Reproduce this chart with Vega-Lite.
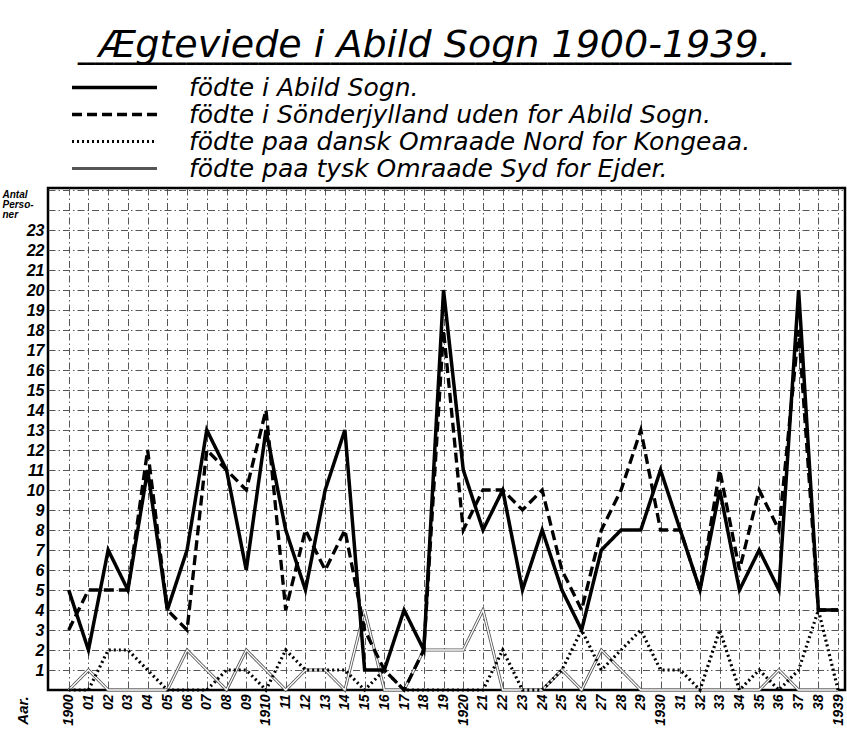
{
  "$schema": "https://vega.github.io/schema/vega-lite/v6.json",
  "autosize": {"type": "none"},
  "width": 797,
  "height": 502,
  "padding": {"left": 48, "top": 188, "right": 2, "bottom": 40},
  "background": "white",
  "title": {
    "text": "Ægteviede  i  Abild Sogn 1900-1939.",
    "subtitle": "━━━━━━━━━━━━━━━━━━━━━━━━━━━━━━━━━━━━━━━━━━━━━━━━━━━━━━━━━━━━━━━━━━━━━━━━━━━━━━━",
    "font": "DejaVu Sans",
    "fontSize": 38,
    "fontStyle": "italic",
    "fontWeight": "normal",
    "color": "black",
    "subtitleFont": "DejaVu Sans Mono",
    "subtitleFontSize": 15,
    "subtitleColor": "black",
    "subtitlePadding": -8,
    "anchor": "middle",
    "frame": "group",
    "offset": 4,
    "dx": -12,
    "dy": 1
  },
  "data": {
    "values": [
      {"year": 1900, "abild": 5, "sj": 3, "dansk": 0, "tysk": 0},
      {"year": 1901, "abild": 2, "sj": 5, "dansk": 0, "tysk": 1},
      {"year": 1902, "abild": 7, "sj": 5, "dansk": 2, "tysk": 0},
      {"year": 1903, "abild": 5, "sj": 5, "dansk": 2, "tysk": 0},
      {"year": 1904, "abild": 11, "sj": 12, "dansk": 1, "tysk": 0},
      {"year": 1905, "abild": 4, "sj": 4, "dansk": 0, "tysk": 0},
      {"year": 1906, "abild": 7, "sj": 3, "dansk": 0, "tysk": 2},
      {"year": 1907, "abild": 13, "sj": 12, "dansk": 0, "tysk": 1},
      {"year": 1908, "abild": 11, "sj": 11, "dansk": 1, "tysk": 0},
      {"year": 1909, "abild": 6, "sj": 10, "dansk": 1, "tysk": 2},
      {"year": 1910, "abild": 13, "sj": 14, "dansk": 0, "tysk": 1},
      {"year": 1911, "abild": 8, "sj": 4, "dansk": 2, "tysk": 0},
      {"year": 1912, "abild": 5, "sj": 8, "dansk": 1, "tysk": 1},
      {"year": 1913, "abild": 10, "sj": 6, "dansk": 1, "tysk": 1},
      {"year": 1914, "abild": 13, "sj": 8, "dansk": 1, "tysk": 0},
      {"year": 1915, "abild": 1, "sj": 3, "dansk": 0, "tysk": 4},
      {"year": 1916, "abild": 1, "sj": 1, "dansk": 1, "tysk": 0},
      {"year": 1917, "abild": 4, "sj": 0, "dansk": 0, "tysk": 0},
      {"year": 1918, "abild": 2, "sj": 2, "dansk": 0, "tysk": 2},
      {"year": 1919, "abild": 20, "sj": 18, "dansk": 0, "tysk": 2},
      {"year": 1920, "abild": 11, "sj": 8, "dansk": 0, "tysk": 2},
      {"year": 1921, "abild": 8, "sj": 10, "dansk": 0, "tysk": 4},
      {"year": 1922, "abild": 10, "sj": 10, "dansk": 2, "tysk": 0},
      {"year": 1923, "abild": 5, "sj": 9, "dansk": 0, "tysk": 0},
      {"year": 1924, "abild": 8, "sj": 10, "dansk": 0, "tysk": 0},
      {"year": 1925, "abild": 5, "sj": 6, "dansk": 1, "tysk": 1},
      {"year": 1926, "abild": 3, "sj": 4, "dansk": 3, "tysk": 0},
      {"year": 1927, "abild": 7, "sj": 8, "dansk": 1, "tysk": 2},
      {"year": 1928, "abild": 8, "sj": 10, "dansk": 2, "tysk": 1},
      {"year": 1929, "abild": 8, "sj": 13, "dansk": 3, "tysk": 0},
      {"year": 1930, "abild": 11, "sj": 8, "dansk": 1, "tysk": 0},
      {"year": 1931, "abild": 8, "sj": 8, "dansk": 1, "tysk": 0},
      {"year": 1932, "abild": 5, "sj": 5, "dansk": 0, "tysk": 0},
      {"year": 1933, "abild": 10, "sj": 11, "dansk": 3, "tysk": 0},
      {"year": 1934, "abild": 5, "sj": 6, "dansk": 0, "tysk": 0},
      {"year": 1935, "abild": 7, "sj": 10, "dansk": 1, "tysk": 0},
      {"year": 1936, "abild": 5, "sj": 8, "dansk": 0, "tysk": 1},
      {"year": 1937, "abild": 20, "sj": 18, "dansk": 1, "tysk": 0},
      {"year": 1938, "abild": 4, "sj": 4, "dansk": 4, "tysk": 0},
      {"year": 1939, "abild": 4, "sj": 4, "dansk": 0, "tysk": 0}
    ]
  },
  "transform": [{"fold": ["abild", "sj", "dansk", "tysk"], "as": ["series", "value"]}],
  "encoding": {
    "x": {
      "field": "year",
      "type": "quantitative",
      "scale": {"domain": [1898.95, 1939.35], "nice": false, "zero": false},
      "axis": {
        "values": [1900,1901,1902,1903,1904,1905,1906,1907,1908,1909,1910,1911,1912,1913,1914,1915,1916,1917,1918,1919,1920,1921,1922,1923,1924,1925,1926,1927,1928,1929,1930,1931,1932,1933,1934,1935,1936,1937,1938,1939],
        "labelExpr": "(datum.value % 10 == 0 || datum.value == 1939) ? toString(datum.value) : slice(toString(datum.value), 2)",
        "labelAngle": 270,
        "labelFont": "Liberation Sans",
        "labelFontSize": 14,
        "labelPadding": 4,
        "title": "Aar.",
        "titleAngle": 270,
        "titleX": -26,
        "titleY": 20,
        "titleAlign": "center",
        "titleBaseline": "middle",
        "titleFontSize": 15
      }
    },
    "y": {
      "field": "value",
      "type": "quantitative",
      "scale": {"domain": [0, 25.1], "nice": false},
      "axis": {
        "values": [1,2,3,4,5,6,7,8,9,10,11,12,13,14,15,16,17,18,19,20,21,22,23,24,25],
        "labelExpr": "datum.value > 23 ? '' : datum.label",
        "labelFont": "Liberation Sans",
        "labelFontSize": 16,
        "labelPadding": 4,
        "title": ["Antal", "Perso-", "ner"],
        "titleAngle": 0,
        "titleX": -46,
        "titleY": 1,
        "titleAlign": "left",
        "titleBaseline": "top",
        "titleFontSize": 10,
        "titleLineHeight": 10
      }
    }
  },
  "layer": [
    {
      "transform": [{"filter": "datum.series == 'tysk'"}],
      "mark": {"type": "line", "strokeJoin": "miter"},
      "encoding": {
        "color": {"field": "series", "type": "nominal", "scale": {"domain": ["abild", "sj", "dansk", "tysk"], "range": ["black", "black", "black", "#555555"]}, "legend": {"orient": "none", "legendX": 54, "legendY": -113, "title": null, "symbolType": "M-4,0H4", "symbolSize": 451, "labelOffset": 62, "rowPadding": 1, "labelExpr": "datum.value == 'abild' ? 'födte i Abild Sogn.' : datum.value == 'sj' ? 'födte i Sönderjylland uden for Abild Sogn.' : datum.value == 'dansk' ? 'födte paa  dansk Omraade Nord for Kongeaa.' : 'födte paa tysk Omraade Syd for Ejder.'"}},
        "strokeDash": {"field": "series", "type": "nominal", "scale": {"domain": ["abild", "sj", "dansk", "tysk"], "range": [[1, 0], [10, 5], [2, 3], [1, 0]]}, "legend": {"orient": "none", "legendX": 54, "legendY": -113, "title": null, "symbolType": "M-4,0H4", "symbolSize": 451, "labelOffset": 62, "rowPadding": 1}},
        "strokeWidth": {"field": "series", "type": "nominal", "scale": {"domain": ["abild", "sj", "dansk", "tysk"], "range": [3.5, 3, 3, 4]}, "legend": {"orient": "none", "legendX": 54, "legendY": -113, "title": null, "symbolType": "M-4,0H4", "symbolSize": 451, "labelOffset": 62, "rowPadding": 1}}
      }
    },
    {
      "transform": [{"filter": "datum.series == 'tysk'"}],
      "mark": {"type": "line", "color": "white", "strokeWidth": 1.3, "strokeJoin": "miter"},
      "encoding": {}
    },
    {
      "transform": [{"filter": "datum.series != 'tysk'"}],
      "mark": {"type": "line", "strokeJoin": "miter"},
      "encoding": {
        "color": {"field": "series", "type": "nominal"},
        "strokeDash": {"field": "series", "type": "nominal"},
        "strokeWidth": {"field": "series", "type": "nominal"}
      }
    }
  ],
  "config": {
    "view": {"stroke": "black", "strokeWidth": 2.5},
    "axis": {
      "labelFontStyle": "italic",
      "labelFontWeight": "bold",
      "labelColor": "black",
      "ticks": false,
      "domain": false,
      "gridColor": "#444",
      "gridDash": [7, 3, 1.5, 3],
      "gridWidth": 0.9,
      "titleFont": "Liberation Sans",
      "titleFontStyle": "italic",
      "titleFontWeight": "bold",
      "titleColor": "black"
    },
    "legend": {
      "labelFont": "DejaVu Sans",
      "labelFontStyle": "italic",
      "labelFontSize": 25,
      "labelColor": "black",
      "labelLimit": 700
    },
    "line": {"strokeCap": "butt"}
  }
}
